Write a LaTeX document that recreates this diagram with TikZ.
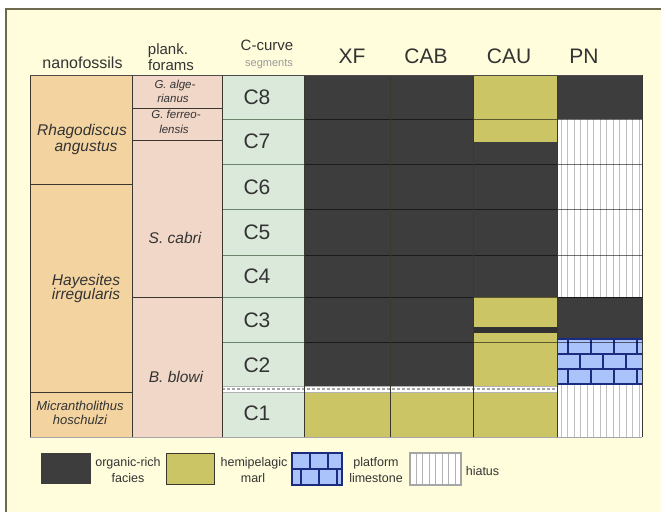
\documentclass[tikz,border=0pt]{standalone}
\usepackage{fontspec}
\setmainfont{Liberation Sans}
\newcommand{\fsz}[1]{\fontsize{#1}{#1}\selectfont}
\definecolor{bg}{HTML}{FFFDDC}
\definecolor{frame}{HTML}{6E6A50}
\definecolor{nano}{HTML}{F3D4A0}
\definecolor{foram}{HTML}{F0D7C8}
\definecolor{ccurve}{HTML}{DAE9DA}
\definecolor{dark}{HTML}{3D3D3D}
\definecolor{marl}{HTML}{CBC566}
\definecolor{limeb}{HTML}{AAC3FA}
\definecolor{limen}{HTML}{1B2B80}
\definecolor{txt}{HTML}{333333}
\definecolor{grid}{HTML}{3A372E}
\begin{document}
\begin{tikzpicture}[x=1pt,y=-1pt,
  every node/.style={inner sep=0pt, text=txt},
  hdr/.style={anchor=base, font=\fsz{15}},
  big/.style={anchor=base, font=\fsz{21}},
  clab/.style={font=\fsz{21}},
  zone/.style={anchor=base, font=\fsz{15.5}\itshape},
  small/.style={anchor=base, font=\fsz{11.5}\itshape},
  leg/.style={anchor=base, font=\fsz{12.5}},
  rowline/.style={black, opacity=0.55, line width=0.9},
  colline/.style={grid, line width=1},
  hatchline/.style={gray!50, line width=0.8},
  brick/.style={limen, line width=1.6}]
\useasboundingbox (0,0) rectangle (661,512);
\fill[white] (0,0) rectangle (661,512);
\fill[bg] (6,9) rectangle (661,512);
\draw[frame, line width=1.3] (6,512) -- (6,9) -- (661,9);

% biostratigraphic columns
\fill[nano] (30,75) rectangle (132,437);
\fill[foram] (132,75) rectangle (222,437);
\fill[ccurve] (222,75) rectangle (304,437);

% XF and CAB
\fill[dark] (304,75) rectangle (473,389);
\fill[marl] (304,389) rectangle (473,437);
% CAU
\fill[marl] (473,75) rectangle (557,142);
\fill[dark] (473,142) rectangle (557,297);
\fill[marl] (473,297) rectangle (557,437);
\fill[dark!80!black] (473,327) rectangle (557,333);
% PN
\fill[dark] (557,75) rectangle (642,119);
\fill[dark] (557,297) rectangle (642,339);
\fill[white] (557,119) rectangle (642,297);
\fill[white] (557,384) rectangle (642,437);
\foreach \i in {0,...,12}{
  \draw[hatchline] ({561+6.5*\i},119) -- ({561+6.5*\i},297);
  \draw[hatchline] ({561+6.5*\i},384) -- ({561+6.5*\i},437);
}
% platform limestone in PN
\fill[limeb] (557,339) rectangle (642,384);
\foreach \yy in {339,354,369,384} \draw[brick] (557,\yy) -- (642,\yy);
\foreach \xx in {568,591,614,637}{
  \draw[brick] (\xx,339) -- (\xx,354);
  \draw[brick] (\xx,369) -- (\xx,384);
}
\foreach \xx in {580,603,626} \draw[brick] (\xx,354) -- (\xx,369);

% hiatus band between C1 and C2
\fill[white] (222,386) rectangle (557,392);
\draw[gray!60, line width=0.6] (222,386) -- (557,386) (222,392) -- (557,392);
\draw[gray!70, line width=1.2, dash pattern=on 3pt off 2pt] (222,389) -- (557,389);

% row lines
\foreach \yy in {119,164,209,255,297,342}{
  \draw[rowline] (304,\yy) -- (642,\yy);
  \draw[gray!70!green!40!black, opacity=0.6, line width=1] (222,\yy) -- (304,\yy);
}
% zone boundaries
\draw[colline] (30,184) -- (132,184) (30,392) -- (132,392);
\draw[colline] (132,108) -- (222,108) (132,140) -- (222,140) (132,297) -- (222,297);

% column lines
\foreach \xx in {30,132,222,304,390,473,557,642}
  \draw[colline] (\xx,75) -- (\xx,437);
\draw[gray!60!black, line width=1] (30,75) -- (642,75);
\draw[gray!70, line width=1] (30,437) -- (642,437);

% headers
\node[hdr, font=\fsz{16}] (hnano) at (82.5,68) {nanofossils};
\node[hdr] (hplank) at (168,54) {plank.};
\node[hdr] (hforams) at (171,70) {forams};
\node[hdr] (hccurve) at (267,50) {C-curve};
\node[anchor=base, font=\fsz{11}, text=gray!80] (hseg) at (269,66) {segments};
\node[big] (hxf) at (352,63) {XF};
\node[big] (hcab) at (426,63) {CAB};
\node[big] (hcau) at (509,63) {CAU};
\node[big] (hpn) at (584,63) {PN};

% C-curve segments
\node[clab] (c8) at (257,97) {C8};
\node[clab] (c7) at (257,141) {C7};
\node[clab] (c6) at (257,187) {C6};
\node[clab] (c5) at (257,232) {C5};
\node[clab] (c4) at (257,276) {C4};
\node[clab] (c3) at (257,320) {C3};
\node[clab] (c2) at (257,365) {C2};
\node[clab] (c1) at (257,413) {C1};

% nanofossil zones
\node[zone] (rha1) at (82,135) {Rhagodiscus};
\node[zone] (rha2) at (86,151) {angustus};
\node[zone] (hay1) at (86,285) {Hayesites};
\node[zone] (hay2) at (86,299) {irregularis};
\node[zone, font=\fsz{13}\itshape] (mic1) at (80,410) {Micrantholithus};
\node[zone, font=\fsz{13}\itshape] (mic2) at (80,424) {hoschulzi};

% planktonic foraminifera zones
\node[small] (galg1) at (175,88) {G. alge-};
\node[small] (galg2) at (173,102) {rianus};
\node[small] (gfer1) at (176,118) {G. ferreo-};
\node[small] (gfer2) at (174,133) {lensis};
\node[zone] (scab) at (175,243) {S. cabri};
\node[zone] (bblo) at (176,382) {B. blowi};

% legend
\fill[dark] (41,453) rectangle (91,484);
\node[leg] (lg1a) at (128,466) {organic-rich};
\node[leg] (lg1b) at (128,482) {facies};
\draw[fill=marl, draw=grid, line width=0.8] (166,453) rectangle (214,484);
\node[leg] (lg2a) at (254,466) {hemipelagic};
\node[leg] (lg2b) at (253,482) {marl};
\fill[limeb] (292,453) rectangle (342,485);
\draw[limen, line width=2.4] (292,453) rectangle (342,485) (292,469) -- (342,469);
\draw[limen, line width=2.4] (310,453) -- (310,469) (328,453) -- (328,469)
  (301,469) -- (301,485) (319,469) -- (319,485) (337,469) -- (337,485);
\node[leg] (lg3a) at (376,466) {platform};
\node[leg] (lg3b) at (376,482) {limestone};
\fill[white] (410,453) rectangle (461,485);
\foreach \i in {0,...,6} \draw[gray!60, line width=0.9] ({416+6.5*\i},453) -- ({416+6.5*\i},485);
\draw[gray!70, line width=1.2] (410,453) rectangle (461,485);
\node[leg] (lg4) at (482.5,475) {hiatus};
\end{tikzpicture}
\end{document}
